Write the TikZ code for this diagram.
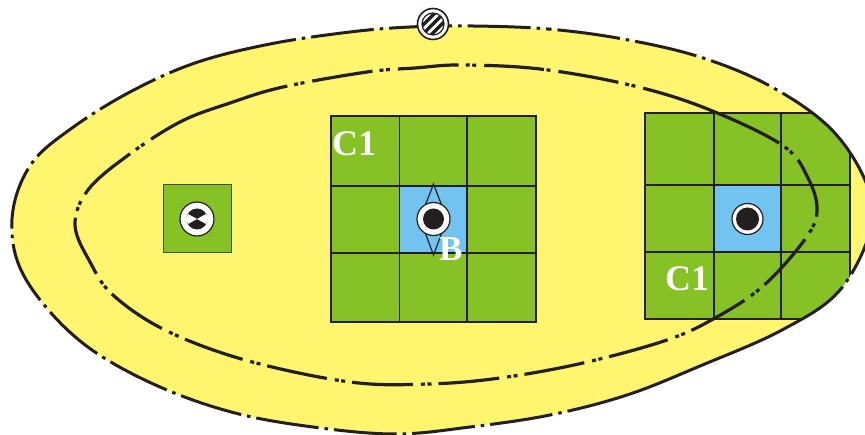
\documentclass[tikz,border=0pt]{standalone}
\usepackage{fontspec}
\setmainfont{Liberation Serif}
\usetikzlibrary{shapes.geometric}
\definecolor{yel}{HTML}{FFF56E}
\definecolor{grn}{HTML}{86C226}
\definecolor{blu}{HTML}{72C3F0}
\definecolor{ink}{HTML}{231F20}
\tikzset{
  outerline/.style={draw=ink,line width=3pt,dash pattern=
    on 3.5pt off 6pt on 63pt off 6pt on 3.5pt off 6pt on 63pt off 6pt on 3.5pt off 6pt on 63pt off 6pt
    on 3.5pt off 6pt on 222pt off 6pt on 3.5pt off 6pt on 305pt off 6pt
    on 3.5pt off 6pt on 63pt off 6pt on 3.5pt off 6pt on 63pt off 6pt on 3.5pt off 6pt on 63pt off 6pt
    on 3.5pt off 6pt on 63pt off 6pt on 3.5pt off 6pt on 63pt off 6pt on 3.5pt off 6pt on 63pt off 6pt
    on 3.5pt off 6pt on 63pt off 6pt on 3.5pt off 6pt on 63pt off 6pt on 3.5pt off 6pt on 63pt off 6pt
    on 3.5pt off 6pt on 63pt off 6pt on 3.5pt off 6pt on 63pt off 6pt
    on 3.5pt off 6pt on 131pt off 6pt
    on 3.5pt off 6pt on 63pt off 6pt on 3.5pt off 6pt on 63pt off 6pt on 3.5pt off 6pt on 63pt off 6pt},
  innerline/.style={draw=ink,line width=3.2pt,dash pattern=
    on 4pt off 2.5pt on 4pt off 8pt on 61pt off 7pt
    on 4pt off 2.5pt on 4pt off 8pt on 147pt off 7pt
    on 4pt off 2.5pt on 4pt off 8pt on 61pt off 7pt
    on 4pt off 2.5pt on 4pt off 8pt on 61pt off 7pt
    on 4pt off 2.5pt on 4pt off 8pt on 61pt off 7pt
    on 4pt off 2.5pt on 4pt off 8pt on 61pt off 7pt
    on 4pt off 2.5pt on 4pt off 8pt on 61pt off 7pt
    on 4pt off 2.5pt on 4pt off 8pt on 61pt off 7pt
    on 4pt off 2.5pt on 4pt off 8pt on 61pt off 7pt
    on 4pt off 2.5pt on 4pt off 8pt on 61pt off 7pt
    on 4pt off 2.5pt on 4pt off 8pt on 61pt off 7pt
    on 4pt off 2.5pt on 4pt off 8pt on 61pt off 7pt
    on 4pt off 2.5pt on 4pt off 8pt on 61pt off 7pt
    on 4pt off 2.5pt on 4pt off 8pt on 61pt off 7pt
    on 4pt off 2.5pt on 4pt off 8pt on 147pt off 7pt
    on 4pt off 2.5pt on 4pt off 8pt on 61pt off 7pt
    on 4pt off 2.5pt on 4pt off 8pt on 61pt off 7pt
    on 4pt off 2.5pt on 4pt off 8pt on 61pt off 7pt},
  cell/.style={draw=ink,line width=1.5pt},
  lab/.style={text=white,font=\bfseries\fontsize{36}{36}\selectfont,inner sep=0pt},
  ring/.style={circle,draw=ink,fill=white,line width=1.2pt,minimum size=#1,inner sep=0pt},
  dot/.style={circle,fill=ink,minimum size=#1,inner sep=0pt}
}
\def\outerpath{plot[smooth cycle,tension=0.6] coordinates {(473,26)(548,29)(623,39)(700,57)(770,86)(830,128)(865,180)(872,225)(840,290)(782,330)(700,366)(627,395)(550,415)(470,427)(395,434)(313,427)(235,413)(160,387)(92,350)(45,306)(17,260)(13,210)(32,163)(72,128)(130,92)(195,63)(270,44)(350,32)(410,27)}}
\begin{document}
\begin{tikzpicture}[x=1pt,y=-1pt]
\useasboundingbox (0,0) rectangle (865,435);
\fill[yel] \outerpath;
% right grid clipped by the outer curve
\begin{scope}
\clip \outerpath;
\fill[grn] (645,113) rectangle (850,319);
\fill[blu] (714,185) rectangle (781,252);
\draw[cell] (645,113) rectangle (850,319);
\draw[cell] (714,113) -- (714,319) (781,113) -- (781,319);
\draw[cell] (645,185) -- (850,185) (645,252) -- (850,252);
\end{scope}
% middle grid
\fill[grn] (331,116) rectangle (536,322);
\fill[blu] (400,186) rectangle (467,253);
\draw[cell] (331,116) rectangle (536,322);
\draw[cell] (399.5,116) -- (399.5,323) (467,116) -- (467,323);
\draw[cell] (331,186) -- (537,186) (331,253) -- (537,253);
% outlines
\draw[outerline] \outerpath;
\draw[innerline] plot[smooth cycle,tension=0.6] coordinates {(461,65)(540,69)(630,85)(705,108)(782,145)(808,178)(817,212)(803,242)(762,287)(715,318)(667,340)(583,363)(500,378)(428,384)(350,382)(245,360)(165,330)(113,295)(90,262)(75,225)(88,190)(127,156)(180,122)(230,103)(283,87)(367,72)(415,68)};
% left square
\node[draw=ink!70!grn,line width=1pt,fill=grn,minimum size=68pt,inner sep=0pt] (s) at (197,218.5) {};
\node[ring=34pt] (sr) at (197,219) {};
\node[dot=21pt] (sd) at (197,219) {};
\fill[white] (197,219) -- (188,214) -- (186,219) -- (188,224) -- cycle;
\fill[white] (197,219) -- (206,214) -- (208,219) -- (206,224) -- cycle;
% middle symbol
\draw[ink,line width=1.2pt] (433.5,184) -- (447,219) -- (433.5,255) -- (420,219) -- cycle;
\node[ring=33pt] (mr) at (433.5,219) {};
\node[dot=21pt] (md) at (433.5,219) {};
% right symbol
\node[ring=31pt] (rr) at (747.5,219) {};
\node[dot=23pt] (rd) at (747.5,219) {};
% top symbol
\node[ring=31pt,line width=1.6pt] (t) at (433,24) {};
\begin{scope}
\clip (433,24) circle (11pt);
\foreach \d in {-9,0,9}
  \draw[ink,line width=3.4pt] (433+\d-14,24+14) -- (433+\d+14,24-14);
\end{scope}
\draw[ink,line width=1.2pt] (433,24) circle (11pt);
% labels
\node[lab,anchor=base west] (c1a) at (332,156) {C1};
\node[lab,anchor=base west] (c1b) at (665,291) {C1};
\node[lab,anchor=base west,font=\bfseries\fontsize{35}{35}\selectfont] (b) at (439,261) {B};
\end{tikzpicture}
\end{document}
